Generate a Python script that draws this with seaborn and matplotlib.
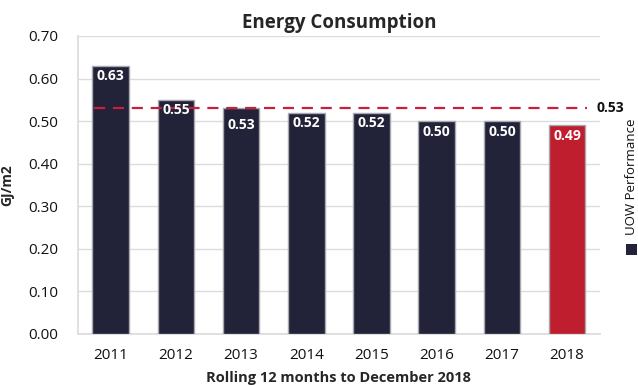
import matplotlib
matplotlib.use("Agg")
import matplotlib.pyplot as plt
import seaborn as sns
import pandas as pd
from matplotlib.patches import Rectangle

years = ["2011", "2012", "2013", "2014", "2015", "2016", "2017", "2018"]
values = [0.63, 0.55, 0.53, 0.52, 0.52, 0.50, 0.50, 0.49]
target = 0.53
yticks = [0.0, 0.1, 0.2, 0.3, 0.4, 0.5, 0.6, 0.7]

navy = "#222238"
red = "#be1e2d"
bar_colors = [navy] * 7 + [red]

sns.set_theme(style="white")
plt.rcParams["font.family"] = ["Open Sans", "DejaVu Sans"]

df = pd.DataFrame({"year": years, "value": values})

fig = plt.figure(figsize=(6.38, 3.85), dpi=100)
ax = fig.add_axes([0.1223, 0.1325, 0.8177, 0.774])

sns.barplot(data=df, x="year", y="value", hue="year", palette=bar_colors,
            saturation=1, legend=False, width=0.56, edgecolor="#a8a8b0",
            linewidth=1.0, ax=ax, zorder=3)

ax.set_ylim(0, 0.70)
ax.set_xlim(-0.5, len(years) - 0.5)
ax.set_yticks(yticks)
ax.set_yticklabels([f"{t:.2f}" for t in yticks], fontsize=11, color="#111111")
ax.tick_params(axis="x", labelsize=11, colors="#111111", pad=10, length=0)
ax.tick_params(axis="y", length=0, pad=14)
ax.grid(axis="y", color="#dcdcdc", linewidth=1.0, zorder=0)
for side in ["top", "right"]:
    ax.spines[side].set_visible(False)
ax.spines["left"].set_color("#dcdcdc")
ax.spines["bottom"].set_color("#dcdcdc")

# Target line across the years
ax.plot([-0.25, 7.3], [target, target], color="#c8203a", linestyle=(0, (5, 3.5)),
        linewidth=1.6, zorder=4)
ax.text(7.45, target, f"{target:.2f}", fontsize=10, fontweight="bold",
        va="center", ha="left", color="#111111")

# Value labels inside the bars; a label that would sit on the target line
# is nudged lower so it stays readable
for i, v in enumerate(values):
    offset = 0.008
    if abs(v - target) < 0.005:
        offset = 0.022
    ax.text(i, v - offset, f"{v:.2f}", ha="center", va="top", color="white",
            fontsize=10, fontweight="bold", zorder=5)

ax.set_xlabel("Rolling 12 months to December 2018", fontsize=10.5,
              fontweight="bold", labelpad=6)
ax.set_ylabel("GJ/m2", fontsize=10, fontweight="bold", labelpad=10)
ax.set_title("Energy Consumption", fontsize=13.5, fontweight="bold", pad=6)

# Vertical legend on the right edge
fig.text(0.99, 0.39, "UOW Performance", rotation=90, fontsize=9.5,
         ha="center", va="bottom", color="#111111")
fig.patches.append(Rectangle((0.981, 0.338), 0.017, 0.027, transform=fig.transFigure,
                             facecolor=navy, edgecolor="none"))

fig.savefig("out.png", dpi=100)
